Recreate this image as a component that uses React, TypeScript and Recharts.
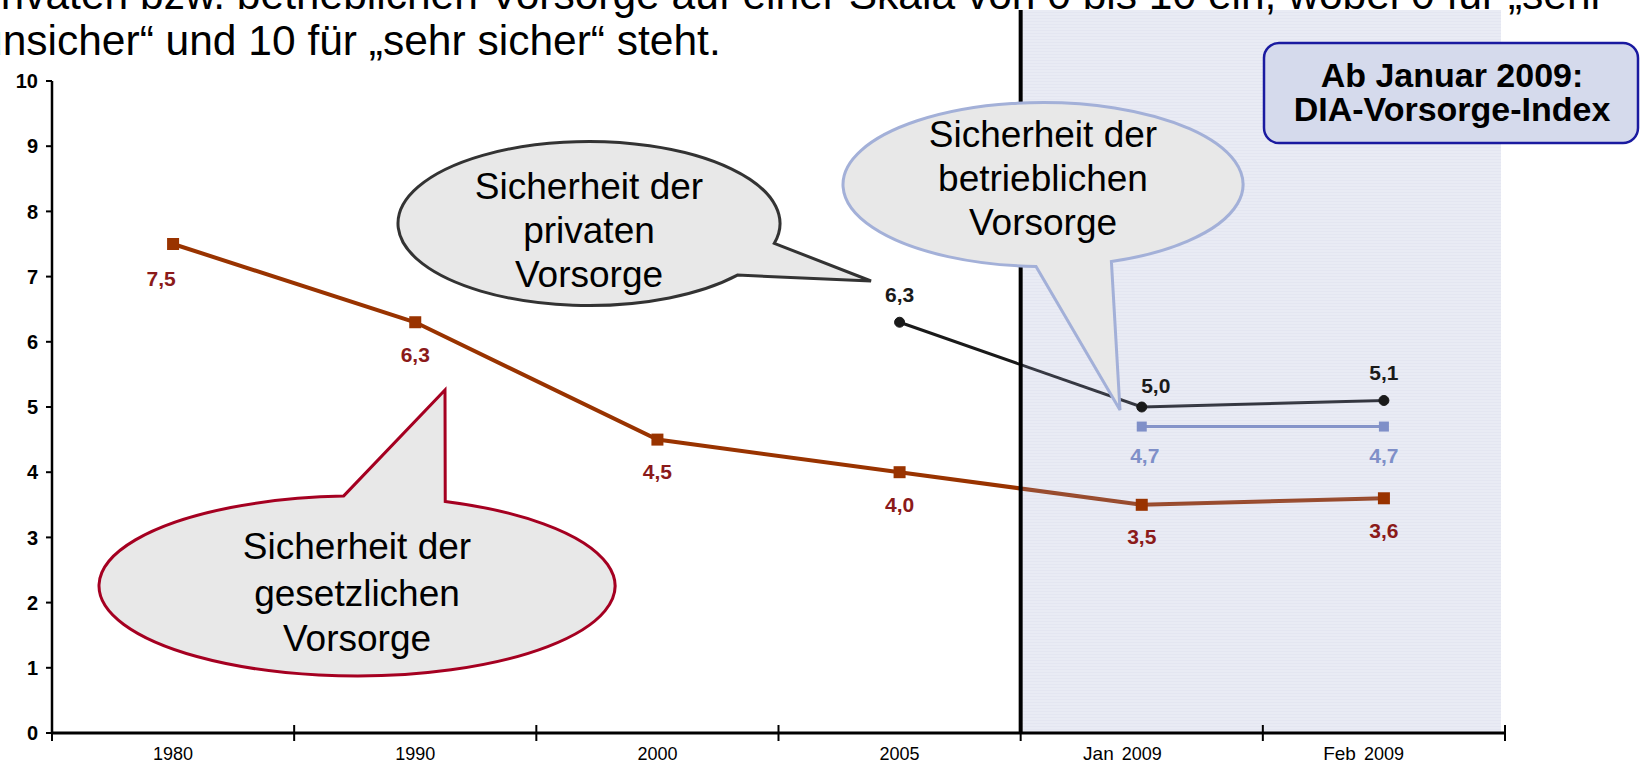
import React from 'react';
import {
  LineChart,
  Line,
  XAxis,
  YAxis,
  ReferenceArea,
  ReferenceLine,
  LabelList,
} from 'recharts';

// data
const periods = ['1980', '1990', '2000', '2005', 'Jan 2009', 'Feb 2009'];
const gesetzlich = [7.5, 6.3, 4.5, 4.0, 3.5, 3.6];
const privat = [null, null, null, 6.3, 5.0, 5.1];
const betrieblich = [null, null, null, null, 4.7, 4.7];
const yTicks = [0, 1, 2, 3, 4, 5, 6, 7, 8, 9, 10];

const rows = periods.map((period, i) => ({
  period,
  gesetzlich: gesetzlich[i],
  privat: privat[i],
  betrieblich: betrieblich[i],
}));

const W = 1641;
const H = 768;
const PLOT_LEFT = 52;
const PLOT_RIGHT = 1505;
const PLOT_TOP = 81;
const PLOT_BOTTOM = 733;
const HALF_BAND = (PLOT_RIGHT - PLOT_LEFT) / periods.length / 2;
const FONT = '"Liberation Sans", Arial, sans-serif';

const BROWN = '#993300';
const BROWN_LABEL = '#8b1a1a';
const DARK = '#1a1a1a';
const BLUE = '#7f8fc8';

const fmt = (v: number) => v.toFixed(1).replace('.', ',');

const XTick = (props: any) => {
  const { x, payload, index } = props;
  const parts = String(payload.value).split(' ');
  const ty = PLOT_BOTTOM + 27;
  return (
    <g>
      <line x1={x - HALF_BAND} x2={x - HALF_BAND} y1={PLOT_BOTTOM - 8} y2={PLOT_BOTTOM + 8} stroke="#000" strokeWidth={2} />
      {index === periods.length - 1 && (
        <line x1={x + HALF_BAND} x2={x + HALF_BAND} y1={PLOT_BOTTOM - 8} y2={PLOT_BOTTOM + 8} stroke="#000" strokeWidth={2} />
      )}
      {parts.length > 1 ? (
        <>
          <text x={x - 28} y={ty} textAnchor="end" fontSize={19} fill="#000" fontFamily={FONT}>{parts[0]}</text>
          <text x={x} y={ty} textAnchor="middle" fontSize={18} fill="#000" fontFamily={FONT}>{parts[1]}</text>
        </>
      ) : (
        <text x={x} y={ty} textAnchor="middle" fontSize={18} fill="#000" fontFamily={FONT}>{parts[0]}</text>
      )}
    </g>
  );
};

const valueLabel = (color: string, dy: number, shifts: Record<number, [number, number]> = {}) => (props: any) => {
  const { x, y, value, index } = props;
  if (value == null) return null;
  const [sx, sy] = shifts[index] ?? [0, 0];
  return (
    <text
      x={x + sx}
      y={y + dy + sy}
      textAnchor="middle"
      dominantBaseline="central"
      fill={color}
      fontSize={21}
      fontWeight="bold"
      fontFamily={FONT}
    >
      {fmt(value)}
    </text>
  );
};

const squareDot = (color: string, size: number) => (p: any) => {
  if (p.value == null || p.cy == null) return <g key={p.index} />;
  return <rect key={p.index} x={p.cx - size / 2} y={p.cy - size / 2} width={size} height={size} fill={color} />;
};

const deg = Math.PI / 180;
function calloutPath(cx: number, cy: number, rx: number, ry: number, t1: number, t2: number, tip: [number, number]) {
  const ax = cx + rx * Math.cos(t1 * deg);
  const ay = cy + ry * Math.sin(t1 * deg);
  const bx = cx + rx * Math.cos(t2 * deg);
  const by = cy + ry * Math.sin(t2 * deg);
  return `M${ax},${ay} L${tip[0]},${tip[1]} L${bx},${by} A${rx},${ry} 0 1 1 ${ax},${ay} Z`;
}

const Callout = ({ path, stroke, cx, lines, baselines }: any) => (
  <g>
    <path d={path} fill="#e8e8e8" stroke={stroke} strokeWidth={3} strokeLinejoin="miter" />
    {lines.map((t: string, i: number) => (
      <text key={t} x={cx} y={baselines[i]} textAnchor="middle" fontSize={37} fill="#000" fontFamily={FONT}>
        {t}
      </text>
    ))}
  </g>
);

export default function App() {
  return (
    <div style={{ position: 'absolute', left: 0, top: 0, width: W, height: H, overflow: 'hidden', background: '#fff' }}>
      <LineChart
        width={W}
        height={H}
        data={rows}
        margin={{ top: PLOT_TOP, right: W - PLOT_RIGHT, bottom: 5, left: 0 }}
        style={{ position: 'absolute', left: 0, top: 0 }}
      >
        <defs>
          <pattern id="stripes" width="6" height="3" patternUnits="userSpaceOnUse">
            <rect width="6" height="3" fill="rgba(150,160,204,0.21)" />
            <rect width="6" height="1" fill="rgba(150,160,204,0.07)" />
          </pattern>
        </defs>
        <XAxis
          dataKey="period"
          scale="band"
          interval={0}
          height={30}
          tickLine={false}
          tickSize={0}
          axisLine={{ stroke: '#000', strokeWidth: 3 }}
          tick={<XTick />}
        />
        <YAxis
          domain={[0, 10]}
          ticks={yTicks}
          interval={0}
          width={PLOT_LEFT}
          tickSize={6}
          tickMargin={8}
          axisLine={{ stroke: '#000', strokeWidth: 2.5 }}
          tickLine={{ stroke: '#000', strokeWidth: 2 }}
          tick={{ fontSize: 20, fontWeight: 'bold', fill: '#000', fontFamily: FONT }}
        />
        <Line
          dataKey="gesetzlich"
          stroke={BROWN}
          strokeWidth={4}
          dot={squareDot(BROWN, 12)}
          isAnimationActive={false}
        >
          <LabelList dataKey="gesetzlich" content={valueLabel(BROWN_LABEL, 32, { 0: [-12, 2] })} />
        </Line>
        <Line
          dataKey="betrieblich"
          stroke={BLUE}
          strokeWidth={3}
          dot={squareDot(BLUE, 10)}
          isAnimationActive={false}
        >
          <LabelList dataKey="betrieblich" content={valueLabel(BLUE, 29, { 4: [3, 0] })} />
        </Line>
        <Line
          dataKey="privat"
          stroke={DARK}
          strokeWidth={3}
          dot={{ r: 5, fill: DARK, stroke: DARK, strokeWidth: 1 }}
          isAnimationActive={false}
        >
          <LabelList dataKey="privat" content={valueLabel(DARK, -28, { 4: [14, 6] })} />
        </Line>
        <ReferenceArea
          x1="Jan 2009"
          x2="Feb 2009"
          zIndex={450}
          shape={(p: any) => (
            <rect x={p.x} y={10} width={p.width - 4} height={p.y + p.height - 10} fill="url(#stripes)" />
          )}
        />
        <ReferenceLine
          x="Jan 2009"
          position="start"
          zIndex={460}
          shape={(p: any) => (
            <line x1={p.x1} x2={p.x2} y1={10} y2={PLOT_BOTTOM} stroke="#000" strokeWidth={4} />
          )}
        />
      </LineChart>

      <svg width={W} height={H} style={{ position: 'absolute', left: 0, top: 0, pointerEvents: 'none' }}>
        <text x={-23} y={9} fontSize={42.5} fill="#000" fontFamily={FONT}>
          privaten bzw. betrieblichen Vorsorge auf einer Skala von 0 bis 10 ein, wobei 0 für „sehr
        </text>
        <text x={-21} y={55} fontSize={42.5} fill="#000" fontFamily={FONT}>
          unsicher“ und 10 für „sehr sicher“ steht.
        </text>

        <Callout
          path={calloutPath(589, 223.5, 191, 82, 14, 39, [871, 281])}
          stroke="#333333"
          cx={589}
          lines={['Sicherheit der', 'privaten', 'Vorsorge']}
          baselines={[199, 243, 287]}
        />
        <Callout
          path={calloutPath(1043, 184.5, 200, 82, 70, 92, [1120, 410])}
          stroke="#a3b0d8"
          cx={1043}
          lines={['Sicherheit der', 'betrieblichen', 'Vorsorge']}
          baselines={[147, 191, 235]}
        />
        <Callout
          path={calloutPath(357, 586, 258, 90, 267, 290, [445, 390])}
          stroke="#a50021"
          cx={357}
          lines={['Sicherheit der', 'gesetzlichen', 'Vorsorge']}
          baselines={[559, 606, 651]}
        />

        <rect x={1264} y={43} width={374} height={100} rx={15} ry={15} fill="#d5daec" stroke="#1a1aa0" strokeWidth={2.5} />
        <text x={1452} y={87} textAnchor="middle" fontSize={34} fontWeight="bold" fill="#000" fontFamily={FONT}>
          Ab Januar 2009:
        </text>
        <text x={1452} y={121} textAnchor="middle" fontSize={34} fontWeight="bold" fill="#000" fontFamily={FONT}>
          DIA-Vorsorge-Index
        </text>
      </svg>
    </div>
  );
}
